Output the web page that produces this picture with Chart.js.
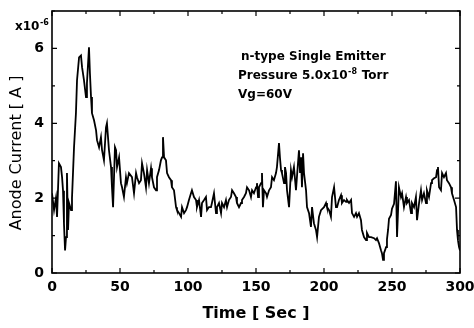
<!DOCTYPE html>
<html>
<head>
<meta charset="utf-8">
<script src="https://cdn.jsdelivr.net/npm/chart.js@4.4.1/dist/chart.umd.min.js"></script>
<style>
  html, body { margin: 0; padding: 0; background: #fff; }
</style>
</head>
<body>
<canvas id="chart" width="474" height="328"></canvas>
<script>
// Anode current trace, values are in units of 1e-6 A (see the x10^-6 label)
const timeSec = [
  0, 1.5, 2.9, 3.7, 5.1, 6.6, 7.4, 8.1, 8.8, 9.6, 10.3, 11.0, 11.8, 12.5, 14.0, 14.7,
  16.2, 17.6, 18.4, 19.9, 21.3, 22.1, 23.5, 25.0, 25.7, 27.2, 27.9, 28.7, 29.4, 30.9,
  32.4, 33.1, 34.6, 36.0, 36.8, 38.2, 39.7, 40.4, 41.9, 43.4, 44.1, 44.9, 46.3, 47.1,
  47.8, 49.3, 50.7, 51.5, 52.9, 54.4, 55.1, 56.6, 58.8, 60.3, 61.8,
  62.5, 64.0, 65.4, 66.2, 67.6, 69.1, 69.9, 71.3, 72.8, 73.5, 75.0, 76.5, 77.2, 78.7,
  80.1, 80.9, 81.6, 82.4, 83.8, 84.6, 86.0, 87.5, 88.2, 89.7, 91.2, 91.9, 93.4, 94.9,
  95.6, 97.1, 98.5, 99.3, 100.7, 102.2, 102.9, 104.4, 105.9, 106.6, 108.1, 109.6,
  110.3, 111.8, 113.2, 114.0, 115.4, 116.9, 117.6, 119.1, 120.6, 121.3, 122.8, 124.3,
  125.0, 126.5, 127.9, 128.7, 130.1, 131.6, 132.4, 133.8, 135.3, 136.0, 137.5, 139.0,
  139.7, 141.2, 142.6, 143.4, 144.9, 146.3, 147.1, 148.5, 150.0, 150.7, 151.5, 152.2,
  153.7, 154.4, 155.1, 155.9, 157.4, 158.1, 159.6, 161.0, 161.8, 163.2, 164.7, 165.4,
  166.9, 167.6, 168.4, 169.1, 170.6, 171.3, 172.1, 172.8, 174.3, 175.7, 176.5, 177.9,
  179.4, 180.1, 181.6, 182.4, 183.1, 183.8, 184.6, 185.3, 186.8, 187.5, 189.0, 190.4,
  191.2, 192.6, 194.1, 194.9, 196.3, 197.8, 198.5, 200.0, 201.5, 202.2, 203.7, 205.1,
  205.9, 207.4, 208.8, 209.6, 211.0, 212.5, 213.2, 214.7, 216.2, 216.9, 218.4, 219.9,
  220.6, 222.1, 223.5, 224.3, 225.7, 227.2, 227.9, 229.4, 230.9, 231.6, 233.1, 234.6,
  236.8, 238.2, 239.0, 240.4, 241.9, 242.6, 243.4, 244.1, 244.9, 245.6, 246.3, 247.1,
  247.8, 249.3, 250.0, 251.5, 252.9, 253.7, 255.1, 256.6, 257.4, 258.8, 260.3, 261.0,
  262.5, 264.0, 264.7, 266.2, 267.6, 268.4, 269.9, 271.3, 272.1, 273.5, 275.0, 275.7,
  277.2, 278.7, 279.4, 280.9, 282.4, 283.1, 283.8, 284.6, 286.0, 286.8, 288.2, 289.7,
  290.4, 291.9, 293.4, 294.1, 295.6, 297.1, 297.8, 298.5, 299.3, 300
];
const currentA = [
  2.13, 1.68, 2.0, 1.5, 2.93, 2.83, 2.56, 2.2, 1.33, 0.6, 0.96, 2.67, 1.15, 1.87, 1.68, 2.0,
  3.36, 4.27, 5.15, 5.76, 5.81, 5.5, 5.15, 4.7, 5.07, 6.03, 5.33, 4.7, 4.27, 4.08,
  3.81, 3.55, 3.36, 3.63, 3.28, 3.01, 3.89, 4.0, 3.28, 2.83, 2.29, 1.76, 3.36, 3.28,
  2.83, 3.09, 2.4, 2.29, 2.03, 2.56, 2.4, 2.67, 2.56, 2.13, 2.67,
  2.56, 2.4, 2.48, 2.93, 2.67, 2.29, 2.75, 2.4, 2.8, 2.56, 2.29, 2.21, 2.56, 2.75,
  3.01, 3.09, 3.63, 3.09, 3.01, 2.67, 2.56, 2.48, 2.29, 2.21, 1.76, 1.68, 1.6, 1.5,
  1.76, 1.6, 1.68, 1.76, 1.95, 2.13, 2.21, 2.03, 1.95, 1.76, 1.95, 1.5,
  1.87, 1.95, 2.03, 1.68, 1.76, 1.76, 1.87, 2.13, 1.6, 1.76, 1.87, 1.6,
  1.87, 1.76, 1.95, 1.76, 1.95, 2.03, 2.21, 2.13, 2.03, 1.87, 1.76, 1.87,
  1.95, 2.03, 2.13, 2.29, 2.21, 2.03, 2.21, 2.13, 2.29, 2.4, 2.03, 2.29,
  2.4, 2.67, 1.76, 2.21, 2.13, 2.03, 2.21, 2.29, 2.56, 2.48, 2.67, 2.83,
  3.47, 3.09, 2.75, 2.67, 2.4, 2.83, 2.67, 2.21, 1.76, 2.75, 2.56, 2.83,
  2.21, 2.56, 3.28, 2.67, 3.09, 2.29, 3.2, 2.67, 2.21, 1.76, 1.6, 1.23,
  1.76, 1.33, 1.15, 0.96, 1.5, 1.68, 1.68, 1.76, 1.87, 1.76, 1.68, 1.5,
  2.03, 2.29, 1.76, 1.76, 1.95, 2.08, 1.87, 1.95, 1.9, 1.95, 1.87, 1.95,
  1.6, 1.5, 1.6, 1.5, 1.6, 1.41, 1.15, 0.96, 0.88, 1.07, 0.96, 0.96,
  0.93, 0.88, 0.93, 0.8, 0.61, 0.53, 0.35, 0.53, 0.61, 0.69, 0.9, 1.15,
  1.45, 1.55, 1.72, 1.85, 2.45, 0.96, 2.29, 2.03, 2.13, 1.76, 2.03, 1.87,
  1.95, 1.6, 1.87, 1.76, 2.03, 1.41, 1.87, 2.21, 1.95, 2.13, 1.87, 2.21,
  2.03, 2.4, 2.48, 2.53, 2.56, 2.75, 2.83, 2.29, 2.21, 2.67, 2.56, 2.67,
  2.48, 2.4, 2.29, 2.13, 1.95, 1.76, 1.15, 0.88, 0.69, 0.6
];
const xTicks = [0, 50, 100, 150, 200, 250, 300];
const yTicks = [0, 2, 4, 6];
const xMax = 300;
const yMax = 7;

const FONT = '"DejaVu Sans", Verdana, sans-serif';

// draw text with a raised exponent
function drawSup(ctx, x, y, base, sup, rest, size) {
  ctx.font = 'bold ' + size + 'px ' + FONT;
  ctx.fillText(base, x, y);
  x += ctx.measureText(base).width;
  ctx.font = 'bold ' + Math.round(size * 0.65) + 'px ' + FONT;
  ctx.fillText(sup, x + 0.5, y - size * 0.42);
  x += ctx.measureText(sup).width + 1;
  if (rest) {
    ctx.font = 'bold ' + size + 'px ' + FONT;
    ctx.fillText(rest, x, y);
  }
}

// box frame, inward ticks on all sides, y title and the text notes
const framePlugin = {
  id: 'frame',
  afterDatasetsDraw(chart) {
    const { ctx, scales: { x, y } } = chart;
    const left = x.getPixelForValue(0), right = x.getPixelForValue(xMax);
    const top = y.getPixelForValue(yMax), bottom = y.getPixelForValue(0);
    ctx.save();
    ctx.strokeStyle = '#000';
    ctx.lineWidth = 1.6;
    ctx.strokeRect(left, top, right - left, bottom - top);

    ctx.lineWidth = 1.2;
    ctx.beginPath();
    for (let v = 0; v <= xMax; v += 25) {
      const px = x.getPixelForValue(v);
      const len = v % 50 === 0 ? 5 : 3;
      ctx.moveTo(px, bottom); ctx.lineTo(px, bottom - len);
      ctx.moveTo(px, top); ctx.lineTo(px, top + len);
    }
    for (let v = 0; v <= yMax; v += 1) {
      const py = y.getPixelForValue(v);
      const len = v % 2 === 0 ? 5 : 3;
      ctx.moveTo(left, py); ctx.lineTo(left + len, py);
      ctx.moveTo(right, py); ctx.lineTo(right - len, py);
    }
    ctx.stroke();

    ctx.fillStyle = '#000';

    // y axis title, a bit below the middle like the original
    ctx.save();
    ctx.translate(17, 153);
    ctx.rotate(-Math.PI / 2);
    ctx.textAlign = 'center';
    ctx.textBaseline = 'middle';
    ctx.font = '16px ' + FONT;
    ctx.fillText('Anode Current [ A ]', 0, 0);
    ctx.restore();

    ctx.textBaseline = 'alphabetic';
    ctx.textAlign = 'left';
    // exponent label above the y axis
    drawSup(ctx, 15, 30, 'x10', '-6', '', 12);

    // annotation block
    ctx.font = 'bold 12px ' + FONT;
    ctx.fillText('n-type Single Emitter', 241, 60);
    drawSup(ctx, 238, 79, 'Pressure 5.0x10', '-8', ' Torr', 12);
    ctx.font = 'bold 12px ' + FONT;
    ctx.fillText('Vg=60V', 238, 98);
    ctx.restore();
  }
};

new Chart(document.getElementById('chart'), {
  type: 'line',
  data: {
    datasets: [{
      data: timeSec.map((t, i) => ({ x: t, y: currentA[i] })),
      borderColor: '#000',
      borderWidth: 1.8,
      pointRadius: 0,
      tension: 0,
      fill: false
    }]
  },
  options: {
    responsive: false,
    animation: false,
    devicePixelRatio: 1,
    layout: { padding: { top: 11, right: 14, left: 0, bottom: 0 } },
    plugins: { legend: { display: false }, tooltip: { enabled: false } },
    scales: {
      x: {
        type: 'linear',
        min: 0,
        max: xMax,
        afterBuildTicks: s => { s.ticks = xTicks.map(v => ({ value: v })); },
        grid: { display: false, drawTicks: false },
        border: { display: false },
        ticks: {
          color: '#000',
          font: { family: FONT, size: 14, weight: 'bold' },
          padding: 6,
          maxRotation: 0,
          autoSkip: false
        },
        title: {
          display: true,
          text: 'Time [ Sec ]',
          color: '#000',
          font: { family: FONT, size: 16, weight: 'bold' },
          padding: { top: 0, bottom: 5 }
        },
        afterFit: s => { s.height = 55; s.paddingLeft = 0; s.paddingRight = 0; }
      },
      y: {
        min: 0,
        max: yMax,
        afterBuildTicks: s => { s.ticks = yTicks.map(v => ({ value: v })); },
        grid: { display: false, drawTicks: false },
        border: { display: false },
        ticks: {
          color: '#000',
          font: { family: FONT, size: 14, weight: 'bold' },
          padding: 8
        },
        title: { display: false },
        afterFit: s => { s.width = 52; s.paddingTop = 0; s.paddingBottom = 0; }
      }
    }
  },
  plugins: [framePlugin]
});
</script>
</body>
</html>
